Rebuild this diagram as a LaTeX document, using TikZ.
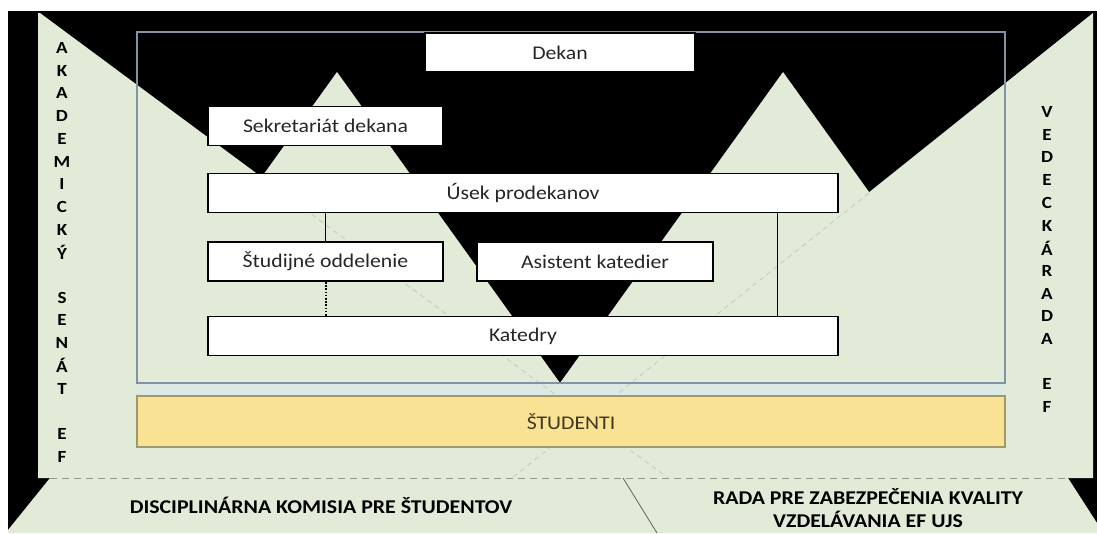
\documentclass[tikz,border=0pt]{standalone}
\usepackage{fontspec}
\setmainfont[FakeStretch=1.12]{Carlito}
\definecolor{leaf}{HTML}{E2EBD8}
\definecolor{haze}{HTML}{DCEAE3}
\definecolor{sand}{HTML}{F9E293}
\definecolor{frameblue}{HTML}{8294A4}
\definecolor{hidden}{HTML}{C2CCBA}
\definecolor{sandtext}{HTML}{3F3722}
\tikzset{
  unit/.style={draw=black, line width=1.8pt, fill=white, inner sep=0pt,
    minimum height=39pt, text=black!85, font=\fontsize{19.4}{21}\selectfont},
  students/.style={draw=black!45!olive!60, line width=1.2pt, fill=sand, inner sep=0pt,
    text=sandtext, font=\fontsize{19.4}{21}\selectfont},
  sideletter/.style={inner sep=0pt, font=\bfseries\fontsize{17}{17}\selectfont},
  bandtext/.style={inner sep=0pt, align=center, font=\bfseries\fontsize{19.5}{23}\selectfont},
  hiddenline/.style={hidden, line width=0.8pt, dash pattern=on 5pt off 4pt},
}
\begin{document}
\begin{tikzpicture}[x=1pt,y=-1pt]
  \useasboundingbox (0,0) rectangle (1097,533);
  % background and the green shapes
  \fill[black] (8,11) rectangle (1097,533);
  \fill[leaf] (38,13) -- (40,13) -- (668,478) -- (38,478) -- cycle;
  \fill[leaf] (1093,13) -- (1093,478) -- (512,478) -- cycle;
  \fill[leaf] (337,72) -- (560,383) -- (114,383) -- cycle;
  \fill[leaf] (783,72) -- (1006,383) -- (560,383) -- cycle;
  \fill[leaf] (50,478) -- (1068,478) -- (1097,523) -- (1097,533) -- (8,533) -- (8,530) -- cycle;
  \fill[haze] (137,383) rectangle (1005,396);
  % hidden edges
  \draw[hiddenline] (261,177) -- (668,478);
  \draw[hiddenline] (869,193) -- (512,478);
  \draw[hidden!75!black, line width=0.8pt, dash pattern=on 7pt off 5pt] (50,478) -- (1068,478);
  \draw[hidden!55!black, line width=0.9pt] (623,478) -- (657,533);
  % frame
  \draw[frameblue, line width=1.2pt] (137,32) rectangle (1005,383);
  % units
  \node[unit, minimum width=270pt] (dekan) at (560,52.5) {Dekan};
  \node[unit, minimum width=235pt] (sekretariat) at (325.5,126) {Sekretariát dekana};
  \node[unit, minimum width=630pt] (usek) at (523,193) {Úsek prodekanov};
  \node[unit, minimum width=235pt] (studodd) at (325.5,261.5) {Študijné oddelenie};
  \node[unit, minimum width=236pt] (asistent) at (595,261.5) {Asistent katedier};
  \node[unit, minimum width=630pt] (katedry) at (523,336) {Katedry};
  \node[students, minimum width=868pt, minimum height=51pt] (studenti) at (571,421.5) {ŠTUDENTI};
  % links
  \coordinate (rlink) at (777,0);
  \draw[line width=1pt] (studodd.north) -- (studodd.north |- usek.south);
  \draw[line width=2pt, dash pattern=on 1.6pt off 1.6pt] (studodd.south) -- (studodd.south |- katedry.north);
  \draw[line width=1pt] (usek.south -| rlink) -- (katedry.north -| rlink);
  % side bodies
  \foreach \ch/\k in {A/0,K/1,A/2,D/3,E/4,M/5,I/6,C/7,K/8,Ý/9,S/11,E/12,N/13,Á/14,T/15,E/17,F/18}
    \node[sideletter] (senat\k) at (62,{48+\k*22.7}) {\ch};
  \foreach \ch/\k in {V/0,E/1,D/2,E/3,C/4,K/5,Á/6,R/7,A/8,D/9,A/10,E/12,F/13}
    \node[sideletter] (rada\k) at (1047,{112+\k*22.7}) {\ch};
  % bottom band
  \node[bandtext] (komisia) at (321,505) {DISCIPLINÁRNA KOMISIA PRE ŠTUDENTOV};
  \node[bandtext] (kvalita) at (868,508) {RADA PRE ZABEZPEČENIA KVALITY\\VZDELÁVANIA EF UJS};
\end{tikzpicture}
\end{document}
